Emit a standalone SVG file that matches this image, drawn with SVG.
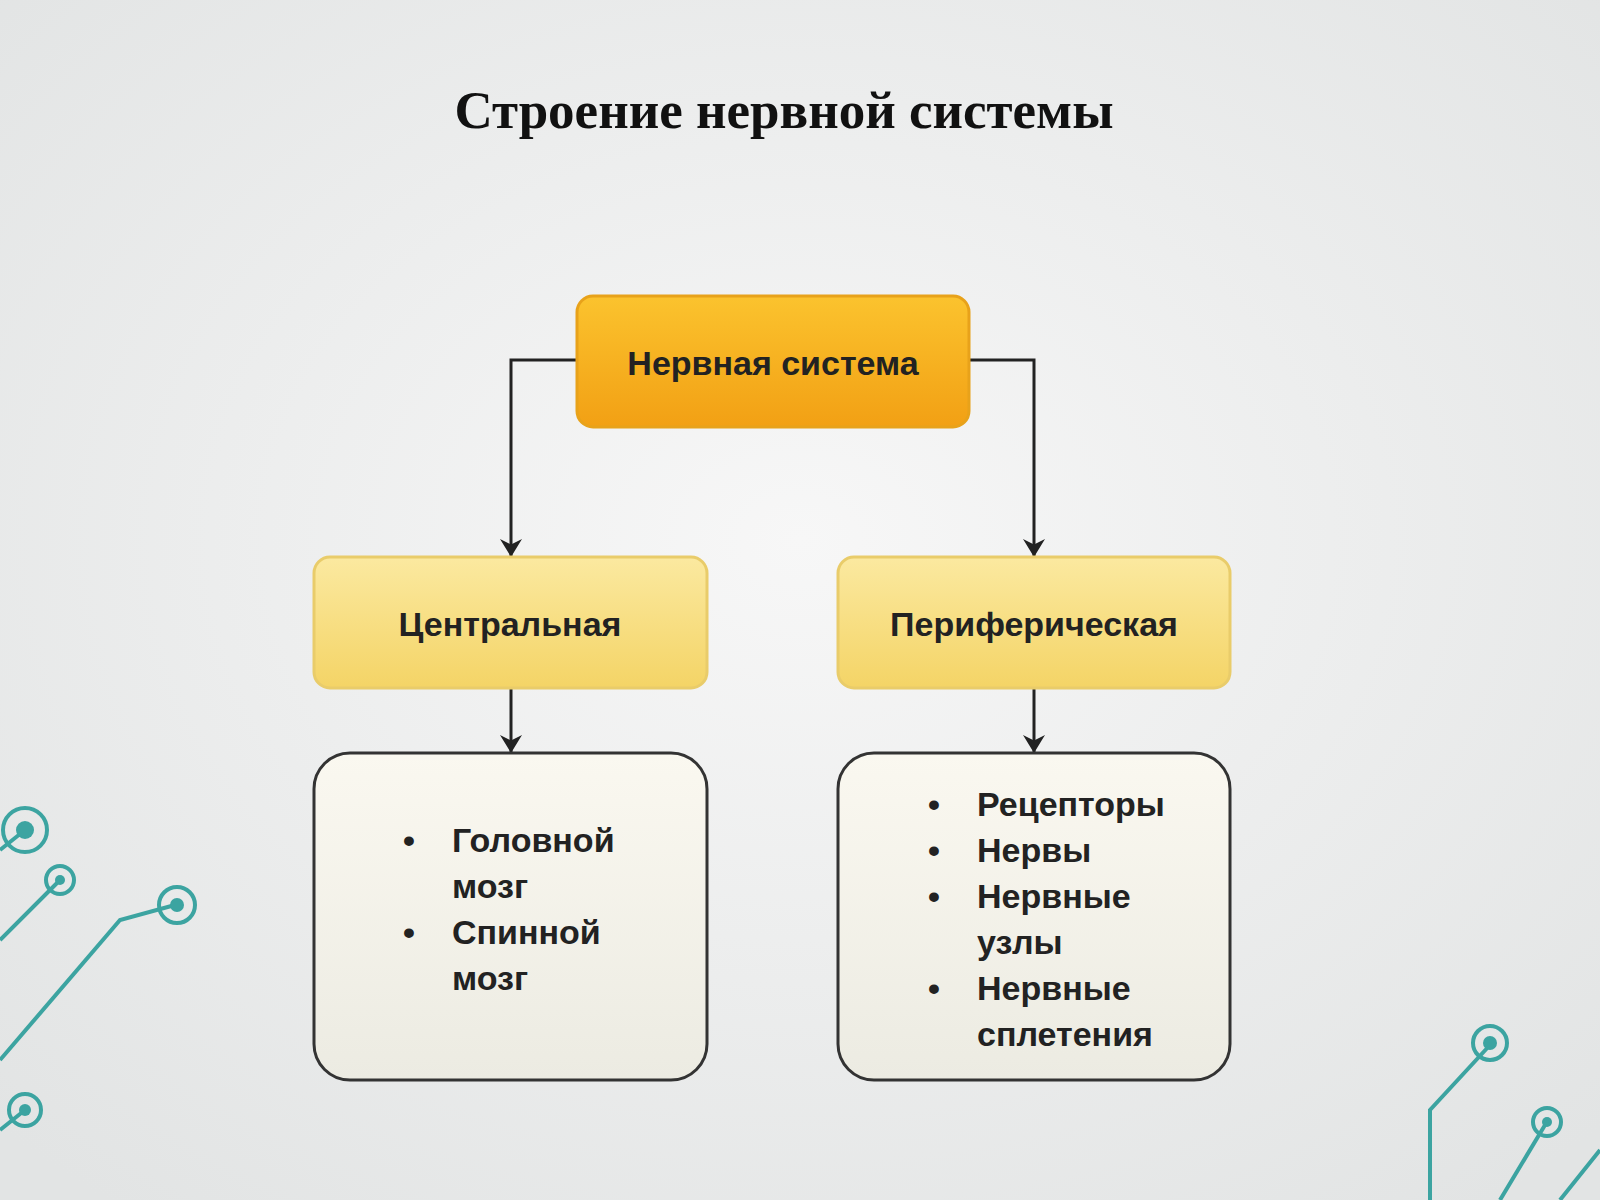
<svg xmlns="http://www.w3.org/2000/svg" width="1600" height="1200" viewBox="0 0 1600 1200">
<defs>
<radialGradient id="bg" cx="0.5" cy="0.45" r="0.7"><stop offset="0" stop-color="#f7f7f7"/><stop offset="1" stop-color="#e2e4e4"/></radialGradient>
<linearGradient id="gTop" x1="0" y1="0" x2="0" y2="1"><stop offset="0" stop-color="#fbc32e"/><stop offset="1" stop-color="#f2a014"/></linearGradient>
<linearGradient id="gMid" x1="0" y1="0" x2="0" y2="1"><stop offset="0" stop-color="#fbe9a0"/><stop offset="1" stop-color="#f4d466"/></linearGradient>
<linearGradient id="gLow" x1="0" y1="0" x2="0" y2="1"><stop offset="0" stop-color="#faf8f0"/><stop offset="1" stop-color="#ecebe2"/></linearGradient>
<marker id="ah" viewBox="0 0 10 10" refX="10" refY="5" markerWidth="18" markerHeight="22" markerUnits="userSpaceOnUse" orient="auto" preserveAspectRatio="none"><path d="M0,0 L10,5 L0,10 L3,5 z" fill="#222"/></marker>
</defs>
<style>
.t{font-family:"Liberation Sans",Arial,sans-serif;font-size:34px;font-weight:bold;fill:#222}
.c{stroke:#222;stroke-width:3;fill:none}
.deco{stroke:#2a9d9a;stroke-width:4;fill:none}
</style>
<rect width="1600" height="1200" fill="url(#bg)"/>
<g id="decor" opacity="0.9">
<path class="deco" d="M0,850 L25,830 M0,940 L60,880 M0,1060 L120,920 L175,905 M0,1130 L25,1110"/>
<circle class="deco" cx="25" cy="830" r="22"/><circle cx="25" cy="830" r="9" fill="#2a9d9a"/>
<circle class="deco" cx="60" cy="880" r="14"/><circle cx="60" cy="880" r="5" fill="#2a9d9a"/>
<circle class="deco" cx="177" cy="905" r="18"/><circle cx="177" cy="905" r="7" fill="#2a9d9a"/>
<circle class="deco" cx="25" cy="1110" r="16"/><circle cx="25" cy="1110" r="6" fill="#2a9d9a"/>
<path class="deco" d="M1430,1200 L1430,1110 L1490,1045 M1500,1200 L1545,1125 M1560,1200 L1600,1150"/>
<circle class="deco" cx="1490" cy="1043" r="17"/><circle cx="1490" cy="1043" r="7" fill="#2a9d9a"/>
<circle class="deco" cx="1547" cy="1122" r="14"/><circle cx="1547" cy="1122" r="5" fill="#2a9d9a"/>
</g>
<text x="784" y="128" text-anchor="middle" font-family="Liberation Serif,serif" font-weight="bold" font-size="53" fill="#111">Строение нервной системы</text>
<g id="connectors">
<path class="c" d="M577,360 L511,360 L511,557" marker-end="url(#ah)"/>
<path class="c" d="M969,360 L1034,360 L1034,557" marker-end="url(#ah)"/>
<path class="c" d="M511,688 L511,753" marker-end="url(#ah)"/>
<path class="c" d="M1034,688 L1034,753" marker-end="url(#ah)"/>
</g>
<g id="n-root"><rect x="577" y="296" width="392" height="131" rx="16" fill="url(#gTop)" stroke="#e8a21a" stroke-width="3"/>
<text class="t" x="773" y="375" text-anchor="middle">Нервная система</text></g>
<g id="n-central"><rect x="314" y="557" width="393" height="131" rx="16" fill="url(#gMid)" stroke="#e9cc6a" stroke-width="3"/>
<text class="t" x="510" y="636" text-anchor="middle">Центральная</text></g>
<g id="n-periph"><rect x="838" y="557" width="392" height="131" rx="16" fill="url(#gMid)" stroke="#e9cc6a" stroke-width="3"/>
<text class="t" x="1034" y="636" text-anchor="middle">Периферическая</text></g>
<g id="n-central-list"><rect x="314" y="753" width="393" height="327" rx="36" fill="url(#gLow)" stroke="#333" stroke-width="3"/>
<g class="t"><text x="403" y="852">•</text><text x="452" y="852">Головной</text><text x="452" y="898">мозг</text>
<text x="403" y="944">•</text><text x="452" y="944">Спинной</text><text x="452" y="990">мозг</text></g></g>
<g id="n-periph-list"><rect x="838" y="753" width="392" height="327" rx="36" fill="url(#gLow)" stroke="#333" stroke-width="3"/>
<g class="t"><text x="928" y="816">•</text><text x="977" y="816">Рецепторы</text>
<text x="928" y="862">•</text><text x="977" y="862">Нервы</text>
<text x="928" y="908">•</text><text x="977" y="908">Нервные</text><text x="977" y="954">узлы</text>
<text x="928" y="1000">•</text><text x="977" y="1000">Нервные</text><text x="977" y="1046">сплетения</text></g></g>
</svg>
